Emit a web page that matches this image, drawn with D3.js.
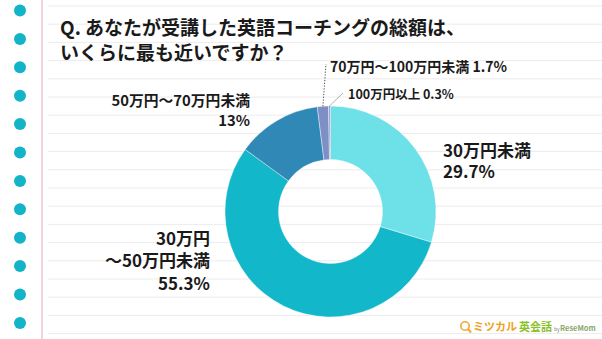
<!DOCTYPE html>
<html><head><meta charset="utf-8">
<script src="https://cdn.jsdelivr.net/npm/d3@7"></script>
<style>
html,body{margin:0;padding:0;background:#fff;}
svg{display:block;font-family:"Noto Sans CJK JP","Noto Sans",sans-serif;}
</style></head>
<body>
<svg id="chart" width="602" height="339"></svg>
<script>
const titleLines = ["Q. あなたが受講した英語コーチングの総額は、", "いくらに最も近いですか？"];
const categories = ["30万円未満", "30万円〜50万円未満", "50万円〜70万円未満", "70万円〜100万円未満", "100万円以上"];
const values = [29.7, 55.3, 13, 1.7, 0.3];
const valueLabels = ["29.7%", "55.3%", "13%", "1.7%", "0.3%"];
const colors = ["#6ee0e8", "#12b7ca", "#2f88b6", "#7e8fc6", "#9aa3c8"];

const svg = d3.select("#chart");
const W = 602, H = 339;

// notebook ruled lines
const lineYs = d3.range(0, 19).map(i => 6 + i * 18.2);
svg.append("g").selectAll("line").data(lineYs).join("line")
  .attr("x1", 48).attr("x2", W).attr("y1", d => d).attr("y2", d => d)
  .attr("stroke", "#ececec").attr("stroke-width", 1);

// margin line
svg.append("line").attr("x1", 42).attr("x2", 42).attr("y1", 0).attr("y2", H)
  .attr("stroke", "#f6d3d8").attr("stroke-width", 2);

// binder dots
const dotYs = d3.range(0, 12).map(i => 10.5 + i * 28.4);
svg.append("g").selectAll("circle").data(dotYs).join("circle")
  .attr("cx", 20).attr("cy", d => d).attr("r", 6)
  .attr("fill", "#14b4c8");

// title
svg.append("g").selectAll("text").data(titleLines).join("text")
  .attr("x", 60).attr("y", (d, i) => 35 + i * 25)
  .attr("font-size", 19).attr("font-weight", 700).attr("fill", "#1a1a1a")
  .text(d => d);

// donut
const cx = 330.5, cy = 211.5, rOuter = 105.5, rInner = 52;
const pie = d3.pie().sort(null).value(d => d)(values);
const arc = d3.arc().innerRadius(rInner).outerRadius(rOuter);
const g = svg.append("g").attr("transform", `translate(${cx},${cy})`);
g.selectAll("path").data(pie).join("path")
  .attr("d", arc)
  .attr("fill", (d, i) => colors[i])
  .attr("stroke", "#ffffff").attr("stroke-width", 0.4);

// leader lines for small slices
function outerPoint(d, r) {
  const a = (d.startAngle + d.endAngle) / 2;
  return [cx + r * Math.sin(a), cy - r * Math.cos(a)];
}
const p3 = outerPoint(pie[3], rOuter);
const p4 = outerPoint(pie[4], rOuter);
svg.append("line").attr("x1", p3[0]).attr("y1", p3[1]).attr("x2", 326).attr("y2", 64)
  .attr("stroke", "#444").attr("stroke-width", 1).attr("stroke-dasharray", "1.2,1.6");
svg.append("line").attr("x1", p4[0]).attr("y1", p4[1]).attr("x2", 343).attr("y2", 93)
  .attr("stroke", "#444").attr("stroke-width", 1).attr("stroke-dasharray", "1.2,1.6");

const lab = svg.append("g").attr("font-weight", 700).attr("fill", "#1a1a1a");
// 30万円未満
lab.append("text").attr("x", 443).attr("y", 157).attr("font-size", 17).text(categories[0]);
lab.append("text").attr("x", 443).attr("y", 178).attr("font-size", 17).text(valueLabels[0]);
// 30万円〜50万円未満
lab.append("text").attr("x", 210).attr("y", 245).attr("font-size", 17).attr("text-anchor", "end").text("30万円");
lab.append("text").attr("x", 210).attr("y", 267).attr("font-size", 17).attr("text-anchor", "end").text("〜50万円未満");
lab.append("text").attr("x", 210).attr("y", 290).attr("font-size", 17).attr("text-anchor", "end").text(valueLabels[1]);
// 50万円〜70万円未満
lab.append("text").attr("x", 250).attr("y", 106).attr("font-size", 14.8).attr("text-anchor", "end").text(categories[2]);
lab.append("text").attr("x", 250).attr("y", 126).attr("font-size", 14.8).attr("text-anchor", "end").text(valueLabels[2]);
// 70万円〜100万円未満
lab.append("text").attr("x", 330).attr("y", 72).attr("font-size", 14).text(categories[3] + " " + valueLabels[3]);
// 100万円以上
lab.append("text").attr("x", 348).attr("y", 99).attr("font-size", 12.5).text(categories[4] + " " + valueLabels[4]);

// logo
const logo = svg.append("g").attr("transform", "translate(459,331)");
logo.append("circle").attr("cx", 6).attr("cy", -5).attr("r", 4.2).attr("fill", "none").attr("stroke", "#f0a830").attr("stroke-width", 1.6);
logo.append("line").attr("x1", 9).attr("y1", -2).attr("x2", 12).attr("y2", 1.5).attr("stroke", "#f0a830").attr("stroke-width", 2);
logo.append("text").attr("x", 14).attr("y", 0).attr("font-size", 11).attr("font-weight", 700).attr("fill", "#eea21c").text("ミツカル");
logo.append("text").attr("x", 60).attr("y", 0).attr("font-size", 11).attr("font-weight", 700).attr("fill", "#8cbf2a").text("英会話");
logo.append("text").attr("x", 95).attr("y", 0).attr("font-size", 5).attr("fill", "#888").text("by");
logo.append("text").attr("x", 101).attr("y", 0).attr("font-size", 7.5).attr("font-weight", 700).attr("fill", "#8aa86a").text("ReseMom");
</script>
</body></html>
